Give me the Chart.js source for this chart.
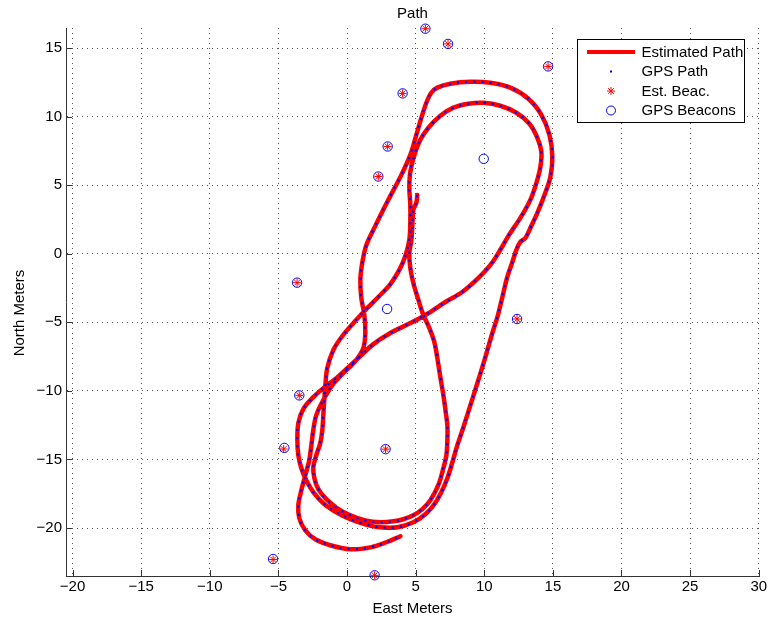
<!DOCTYPE html>
<html>
<head>
<meta charset="utf-8">
<script src="https://cdn.jsdelivr.net/npm/chart.js@4.4.1/dist/chart.umd.min.js"></script>
<style>
html, body { margin: 0; padding: 0; background: #fff; }
</style>
</head>
<body>
<canvas id="pathChart" width="768" height="618"></canvas>

<script>
// path in meters (east, north). GPS track sits on top of the estimate.
var pathEast = [
  5.12, 5.05, 4.83, 4.76, 4.69, 4.54, 4.61, 4.83, 5.20, 5.56,
  6.00, 6.36, 6.58, 6.80, 7.02, 7.17, 7.31, 7.31, 7.24, 7.02,
  6.65, 6.07, 5.49, 4.83, 4.10, 3.38, 2.43, 1.33, 0.24, -0.71,
  -1.51, -2.09, -2.38, -2.46, -2.24, -1.95, -1.80, -1.73, -1.66, -1.58,
  -1.44, -1.00, -0.34, 0.53, 1.41, 2.35, 3.16, 3.81, 4.25, 4.54,
  4.61, 4.61, 4.54, 4.61, 4.91, 5.34, 5.93, 6.80, 7.75, 8.84,
  9.93, 11.17, 12.34, 13.29, 13.87, 14.16, 14.09, 13.80, 13.36, 12.63,
  11.76, 11.25, 10.45, 9.50, 8.40, 7.17, 5.71, 4.47, 3.16, 1.92,
  0.97, 0.10, -0.78, -1.73, -2.53, -3.19, -3.55, -3.62, -3.55, -3.33,
  -2.97, -2.46, -1.73, -0.78, 0.24, 1.33, 2.43, 3.67, 4.83, 5.71,
  6.36, 6.87, 7.31, 7.68, 8.04, 8.48, 8.99, 9.50, 9.86, 10.23,
  10.59, 10.96, 11.32, 11.68, 12.05, 12.34, 12.63, 13.00, 13.36, 13.87,
  14.45, 14.82, 14.96, 14.75, 14.16, 13.21, 11.90, 10.45, 8.99, 7.53,
  6.58, 6.14, 5.78, 5.42, 5.05, 4.61, 3.96, 3.01, 2.06, 1.41,
  1.12, 0.97, 1.04, 1.26, 1.33, 1.19, 0.61, -0.27, -1.07, -1.73,
  -2.24, -2.46, -2.60, -2.75, -3.04, -3.33, -3.55, -3.48, -3.04, -2.31,
  -1.22, 0.24, 1.70, 2.86, 3.89
];
var pathNorth = [
  4.29, 3.71, 3.20, 2.10, 1.01, 0.06, -1.04, -2.13, -3.37, -4.47,
  -5.42, -6.44, -7.61, -9.00, -10.31, -11.40, -12.50, -13.59, -14.69, -15.64,
  -16.88, -17.98, -18.62, -19.07, -19.36, -19.51, -19.58, -19.44, -19.07, -18.56,
  -17.90, -17.17, -16.37, -15.57, -14.69, -13.81, -12.86, -11.77, -10.67, -9.58,
  -8.34, -7.02, -6.00, -4.98, -4.03, -3.08, -2.21, -1.18, -0.16, 1.01,
  2.32, 3.56, 4.80, 5.97, 7.21, 8.31, 9.19, 10.06, 10.65, 10.94,
  11.01, 10.79, 10.28, 9.48, 8.45, 7.43, 6.34, 5.17, 3.93, 2.61,
  1.30, 0.42, -0.82, -1.84, -2.79, -3.52, -4.47, -5.13, -5.78, -6.59,
  -7.46, -8.27, -9.07, -9.80, -10.53, -11.33, -12.35, -13.59, -14.69, -15.64,
  -16.52, -17.39, -18.19, -18.85, -19.36, -19.73, -19.95, -19.95, -19.58, -19.00,
  -18.27, -17.39, -16.37, -15.20, -13.96, -12.65, -11.04, -9.43, -8.27, -7.02,
  -5.78, -4.61, -3.15, -1.69, -0.60, 0.28, 0.86, 1.15, 1.88, 2.98,
  4.44, 5.61, 7.07, 8.67, 10.13, 11.30, 12.11, 12.47, 12.54, 12.40,
  12.11, 11.74, 11.01, 9.92, 8.67, 7.21, 5.75, 3.93, 2.03, 0.64,
  -0.60, -1.91, -3.23, -4.47, -5.71, -6.88, -7.83, -8.70, -9.58, -10.67,
  -11.77, -12.86, -13.96, -15.05, -16.15, -17.25, -18.34, -19.29, -20.17, -20.82,
  -21.26, -21.55, -21.41, -21.04, -20.60
];

var gpsBeaconEast  = [5.71, 7.36, 14.65, 4.05, 2.96, 2.28, 9.96, -3.64, 2.92, 12.39, -3.48, -4.57, 2.81, -5.39, 2.01];
var gpsBeaconNorth = [16.41, 15.30, 13.66, 11.69, 7.82, 5.63, 6.92, -2.11, -4.03, -4.76, -10.33, -14.16, -14.25, -22.26, -23.45];
var estBeaconEast  = [5.71, 7.36, 14.65, 4.05, 2.96, 2.28, -3.64, 12.39, -3.48, -4.62, 2.81, -5.39, 2.01];
var estBeaconNorth = [16.41, 15.30, 13.66, 11.69, 7.82, 5.63, -2.11, -4.76, -10.33, -14.24, -14.25, -22.30, -23.45];

var xTicks = [-20, -15, -10, -5, 0, 5, 10, 15, 20, 25, 30];
var yTicks = [-20, -15, -10, -5, 0, 5, 10, 15];

function toPoints(xs, ys) {
  return xs.map(function (x, i) { return { x: x, y: ys[i] }; });
}
function fmtTick(v) {
  return v < 0 ? '\u2212' + Math.abs(v) : String(v);
}

Chart.defaults.font.family = '"Liberation Sans", Arial, Helvetica, sans-serif';
Chart.defaults.font.size = 15;
Chart.defaults.color = '#000';

// inward tick marks like matlab
var innerTicks = {
  id: 'innerTicks',
  afterDraw: function (chart) {
    var c = chart.ctx, a = chart.chartArea;
    c.save();
    c.strokeStyle = '#333';
    c.lineWidth = 1;
    c.beginPath();
    xTicks.forEach(function (v) {
      var px = Math.round(chart.scales.x.getPixelForValue(v)) + 0.5;
      c.moveTo(px, a.bottom);
      c.lineTo(px, a.bottom - 6);
    });
    yTicks.forEach(function (v) {
      var py = Math.round(chart.scales.y.getPixelForValue(v)) + 0.5;
      c.moveTo(a.left, py);
      c.lineTo(a.left + 6, py);
    });
    c.stroke();
    c.restore();
  }
};

// title, axis labels and the boxed legend
var labelsAndLegend = {
  id: 'labelsAndLegend',
  afterDraw: function (chart) {
    var c = chart.ctx, a = chart.chartArea;
    var cx = (a.left + a.right) / 2;
    c.save();
    c.fillStyle = '#000';
    c.font = '15px "Liberation Sans", Arial, sans-serif';
    c.textAlign = 'center';
    c.textBaseline = 'alphabetic';
    c.fillText('Path', cx, 17.5);
    c.fillText('East Meters', cx, 613);
    c.save();
    c.translate(24, 313);
    c.rotate(-Math.PI / 2);
    c.fillText('North Meters', 0, 0);
    c.restore();

    // legend box
    var bx = 577.5, by = 39.5, bw = 167, bh = 83;
    c.fillStyle = '#fff';
    c.fillRect(bx, by, bw, bh);
    c.strokeStyle = '#000';
    c.lineWidth = 1;
    c.strokeRect(bx, by, bw, bh);

    var rows = [52, 71.5, 91, 110.5];
    var mx = 611;
    // Estimated Path
    c.strokeStyle = 'rgb(255,0,0)';
    c.lineWidth = 4;
    c.beginPath();
    c.moveTo(587, rows[0]);
    c.lineTo(635, rows[0]);
    c.stroke();
    // GPS Path
    c.fillStyle = 'rgb(0,0,255)';
    c.fillRect(mx - 1, rows[1] - 1, 2, 2);
    // Est. Beac.
    c.strokeStyle = 'rgb(255,0,0)';
    c.lineWidth = 1;
    c.beginPath();
    var r = 4, d = r * Math.SQRT1_2;
    c.moveTo(mx - r, rows[2]); c.lineTo(mx + r, rows[2]);
    c.moveTo(mx, rows[2] - r); c.lineTo(mx, rows[2] + r);
    c.moveTo(mx - d, rows[2] - d); c.lineTo(mx + d, rows[2] + d);
    c.moveTo(mx - d, rows[2] + d); c.lineTo(mx + d, rows[2] - d);
    c.stroke();
    // GPS Beacons
    c.strokeStyle = 'rgb(0,0,255)';
    c.beginPath();
    c.arc(mx, rows[3], 4.5, 0, Math.PI * 2);
    c.stroke();

    c.fillStyle = '#000';
    c.textAlign = 'left';
    c.textBaseline = 'middle';
    var names = ['Estimated Path', 'GPS Path', 'Est. Beac.', 'GPS Beacons'];
    names.forEach(function (n, i) { c.fillText(n, 641.5, rows[i] + 0.5); });
    c.restore();
  }
};

var ctx = document.getElementById('pathChart').getContext('2d');
var chart = new Chart(ctx, {
  type: 'scatter',
  data: {
    datasets: [
      {
        label: 'Est. Beac.',
        data: toPoints(estBeaconEast, estBeaconNorth),
        pointStyle: 'star',
        pointRadius: 4,
        pointBorderWidth: 1,
        borderColor: 'rgb(255,0,0)',
        backgroundColor: 'rgb(255,0,0)',
        clip: false,
        order: 0
      },
      {
        label: 'GPS Beacons',
        data: toPoints(gpsBeaconEast, gpsBeaconNorth),
        pointStyle: 'circle',
        pointRadius: 4.7,
        pointBorderWidth: 1,
        borderColor: 'rgb(0,0,255)',
        backgroundColor: 'rgba(0,0,0,0)',
        clip: false,
        order: 1
      },
      {
        label: 'GPS Path',
        data: toPoints(pathEast, pathNorth),
        showLine: true,
        borderColor: 'rgb(0,0,255)',
        borderWidth: 2.2,
        borderDash: [2.2, 6],
        pointRadius: 0,
        tension: 0.35,
        order: 2
      },
      {
        label: 'Estimated Path',
        data: toPoints(pathEast, pathNorth),
        showLine: true,
        borderColor: 'rgb(255,0,0)',
        borderWidth: 4.5,
        borderCapStyle: 'round',
        borderJoinStyle: 'round',
        pointRadius: 0,
        tension: 0.35,
        order: 3
      }
    ]
  },
  options: {
    responsive: false,
    animation: false,
    devicePixelRatio: 1,
    layout: { padding: { top: 28, right: 9, left: 0, bottom: 0 } },
    plugins: {
      legend: { display: false },
      tooltip: { enabled: false },
      title: { display: false }
    },
    scales: {
      x: {
        type: 'linear',
        min: -20.48,
        max: 30.02,
        afterBuildTicks: function (s) { s.ticks = xTicks.map(function (v) { return { value: v }; }); },
        afterFit: function (s) { s.height = 42; s.paddingLeft = 0; s.paddingRight = 0; },
        ticks: { padding: 2, maxRotation: 0, autoSkip: false, callback: fmtTick, color: '#000' },
        grid: { color: '#555', lineWidth: 1, drawTicks: false },
        border: { display: true, color: '#333', width: 1, dash: [1, 4] }
      },
      y: {
        type: 'linear',
        min: -23.5,
        max: 16.46,
        afterBuildTicks: function (s) { s.ticks = yTicks.map(function (v) { return { value: v }; }); },
        afterFit: function (s) { s.width = 66; s.paddingTop = 0; s.paddingBottom = 0; },
        ticks: { padding: 4, autoSkip: false, callback: fmtTick, color: '#000' },
        grid: { color: '#555', lineWidth: 1, drawTicks: false },
        border: { display: true, color: '#333', width: 1, dash: [1, 4] }
      }
    }
  },
  plugins: [innerTicks, labelsAndLegend]
});
</script>
</body>
</html>
